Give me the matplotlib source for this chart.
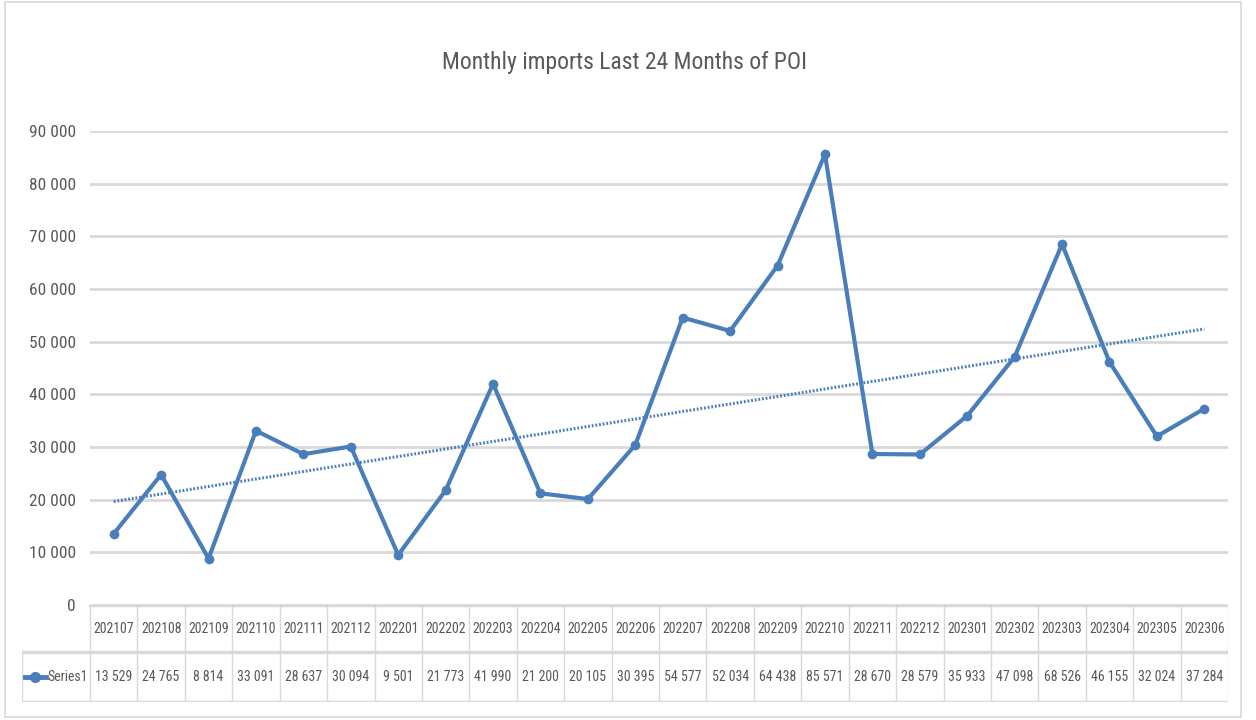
import numpy as np
import matplotlib.pyplot as plt
from matplotlib.patches import Rectangle
from matplotlib import font_manager

months = ['202107', '202108', '202109', '202110', '202111', '202112',
          '202201', '202202', '202203', '202204', '202205', '202206',
          '202207', '202208', '202209', '202210', '202211', '202212',
          '202301', '202302', '202303', '202304', '202305', '202306']
imports = [13529, 24765, 8814, 33091, 28637, 30094,
           9501, 21773, 41990, 21200, 20105, 30395,
           54577, 52034, 64438, 85571, 28670, 28579,
           35933, 47098, 68526, 46155, 32024, 37284]
series_name = 'Series1'
title = 'Monthly imports Last 24 Months of POI'

# narrow font if we have one
names = {f.name for f in font_manager.fontManager.ttflist}
cond = [f for f in font_manager.fontManager.ttflist
        if f.name == 'DejaVu Sans' and f.stretch == 'condensed']
font = 'DejaVu Sans'
for cand in ['Liberation Sans Narrow', 'Roboto Condensed', 'Open Sans Condensed']:
    if cand in names:
        font = cand
        break
plt.rcParams['font.family'] = [font, 'DejaVu Sans']
if font == 'DejaVu Sans' and cond:
    plt.rcParams['font.stretch'] = 'condensed'

blue = '#4a7ebb'
grid = '#d9d9d9'
txt = '#595959'
W, H = 1256, 720


def fx(px):
    return px / W


def fy(py):
    return 1 - py / H


fig = plt.figure(figsize=(12.56, 7.2), dpi=100)
fig.patches.append(Rectangle((fx(5), fy(717)), fx(1241) - fx(5), fy(2) - fy(717),
                             transform=fig.transFigure, fill=False,
                             edgecolor='#d9d9d9', lw=1.2))

# main plot
ax = fig.add_axes([fx(90), fy(605), fx(1228) - fx(90), fy(131) - fy(605)])
x = np.arange(len(months))
ax.plot(x, imports, color=blue, lw=3, marker='o', markersize=7,
        markeredgewidth=0, solid_joinstyle='round')
k, b = np.polyfit(x, imports, 1)
ax.plot(x, k * x + b, color=blue, lw=2.2, linestyle=(0, (0.6, 0.6)))
ax.set_xlim(-0.5, len(months) - 0.5)
ax.set_ylim(0, 90000)
ax.set_yticks(np.arange(0, 90001, 10000))
ax.set_yticklabels([f'{v:,}'.replace(',', ' ') for v in range(0, 90001, 10000)],
                   color=txt, fontsize=12.5)
ax.tick_params(axis='y', length=0, pad=10)
ax.set_xticks([])
ax.grid(axis='y', color=grid, lw=2)
ax.set_axisbelow(True)
for s in ax.spines.values():
    s.set_visible(False)

fig.text(fx(625), fy(62), title, ha='center', va='center', fontsize=17, color=txt)

# data table
ncol = len(months)
unit = (1228 - 90) / ncol
left = -0.5 - (90 - 22) / unit
tb = fig.add_axes([fx(22), fy(702), fx(1228) - fx(22), fy(605) - fy(702)])
tb.set_xlim(left, ncol - 0.5)
tb.set_ylim(702, 605)
tb.axis('off')
for i in range(ncol + 1):
    tb.plot([i - 0.5, i - 0.5], [605, 702], color=grid, lw=1)
tb.plot([left, left], [652, 702], color=grid, lw=1)
tb.plot([-0.5, ncol - 0.5], [605, 605], color=grid, lw=2.5)
tb.plot([left, ncol - 0.5], [652, 652], color=grid, lw=2.5)
tb.plot([left, ncol - 0.5], [702, 702], color=grid, lw=2.5)
for i in range(ncol):
    tb.text(i, 629, months[i], ha='center', va='center', fontsize=10, color=txt)
    tb.text(i, 677, f'{imports[i]:,}'.replace(',', ' '), ha='center', va='center',
            fontsize=10, color=txt)
tb.plot([left + 0.06, left + 0.5], [677, 677], color=blue, lw=3.5)
tb.plot([left + 0.28], [677], marker='o', color=blue, markersize=7)
tb.text(left + 0.53, 677, series_name, ha='left', va='center', fontsize=10, color=txt)

fig.savefig('out.png', dpi=100)
